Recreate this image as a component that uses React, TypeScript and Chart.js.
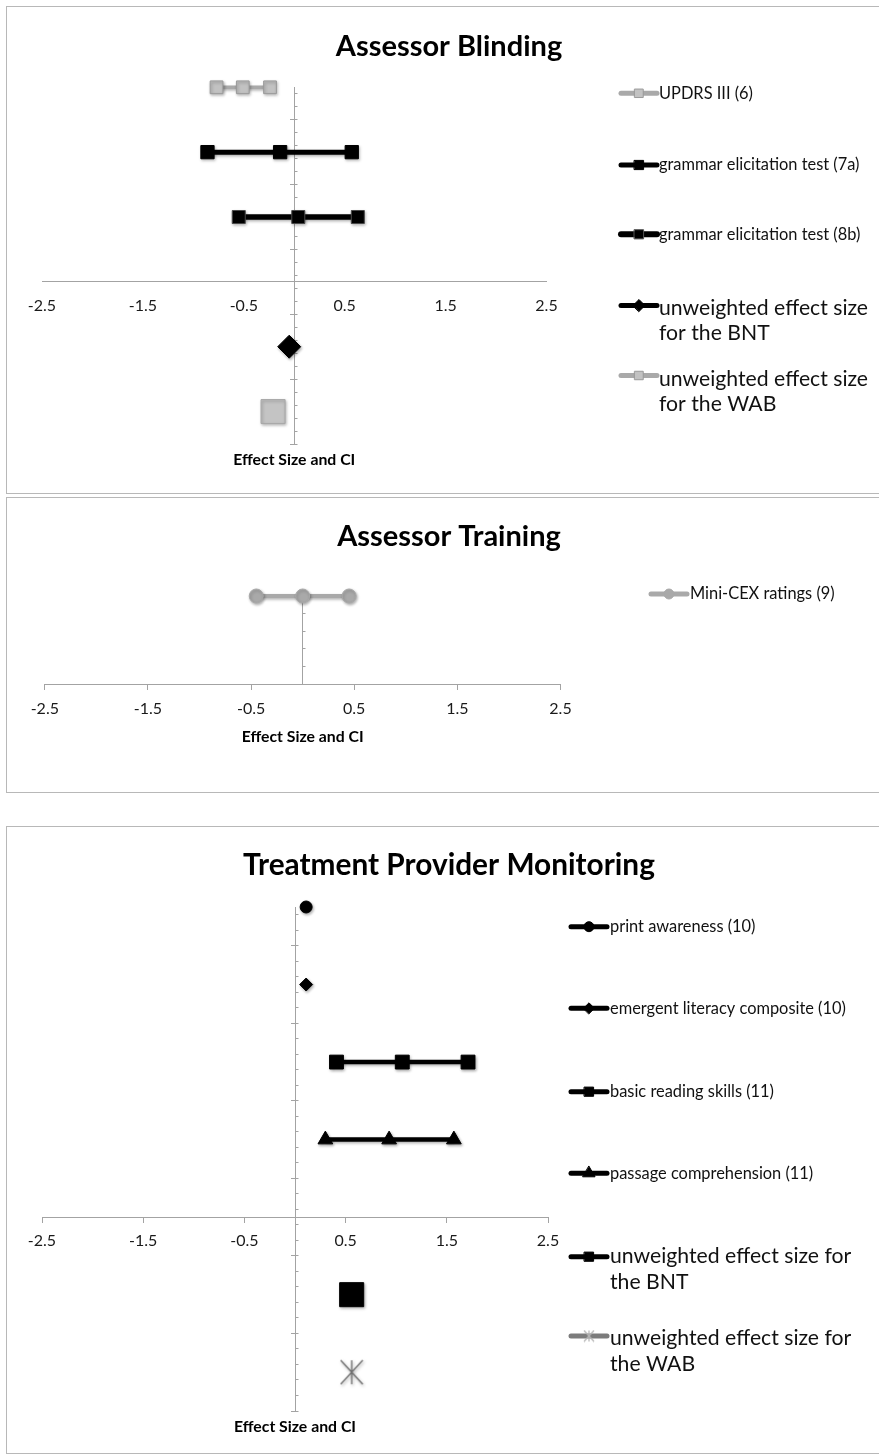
import React, { useEffect, useRef } from "react";
import { Chart, registerables } from "chart.js";
import { drawPoint } from "chart.js/helpers";

Chart.register(...registerables);

// ---------------------------------------------------------------------------
// Shared axis values
// ---------------------------------------------------------------------------
const X_MIN = -2.5;
const X_MAX = 2.5;
const X_TICKS = [-2.5, -1.5, -0.5, 0.5, 1.5, 2.5];
const X_TICK_LABELS = ["-2.5", "-1.5", "-0.5", "0.5", "1.5", "2.5"];
const AXIS_TITLE = "Effect Size and CI";
const Y_MINOR_STEP = 0.2;
const Y_MAJOR_STEP = 1;

// ---------------------------------------------------------------------------
// Assessor Blinding — study rows hold [lower CI, effect size, upper CI]
// ---------------------------------------------------------------------------
const BLINDING_TITLE = "Assessor Blinding";
const BLINDING_Y_RANGE = [-2.5, 3];
const BLINDING_ROWS = [3, 2, 1, -1, -2];
const UPDRS_III = [-0.77, -0.51, -0.24];
const GRAMMAR_7A = [-0.86, -0.14, 0.57];
const GRAMMAR_8B = [-0.55, 0.04, 0.63];
const BLINDING_BNT = [-0.05];
const BLINDING_WAB = [-0.21];
const BLINDING_LABELS = [
  ["UPDRS III (6)"],
  ["grammar elicitation test (7a)"],
  ["grammar elicitation test (8b)"],
  ["unweighted effect size", "for the BNT"],
  ["unweighted effect size", "for the WAB"],
];

// ---------------------------------------------------------------------------
// Assessor Training
// ---------------------------------------------------------------------------
const TRAINING_TITLE = "Assessor Training";
const TRAINING_Y_RANGE = [0, 1];
const TRAINING_ROWS = [1];
const MINI_CEX = [-0.45, 0, 0.45];
const TRAINING_LABELS = [["Mini-CEX ratings (9)"]];

// ---------------------------------------------------------------------------
// Treatment Provider Monitoring
// ---------------------------------------------------------------------------
const MONITORING_TITLE = "Treatment Provider Monitoring";
const MONITORING_Y_RANGE = [-2.5, 4];
const MONITORING_ROWS = [4, 3, 2, 1, -1, -2];
const PRINT_AWARENESS = [0.11];
const EMERGENT_LITERACY = [0.11];
const BASIC_READING = [0.41, 1.06, 1.71];
const PASSAGE_COMPREHENSION = [0.3, 0.93, 1.57];
const MONITORING_BNT = [0.56];
const MONITORING_WAB = [0.56];
const MONITORING_LABELS = [
  ["print awareness (10)"],
  ["emergent literacy composite (10)"],
  ["basic reading skills (11)"],
  ["passage comprehension (11)"],
  ["unweighted effect size for", "the BNT"],
  ["unweighted effect size for", "the WAB"],
];

// ---------------------------------------------------------------------------
// Styling
// ---------------------------------------------------------------------------
const FONT = "Lato, 'Open Sans', 'Liberation Sans', sans-serif";
const AXIS_GRAY = "#a3a3a3";
const FRAME_GRAY = "#b8b8b8";
const GRAY_LINE = "#a9a9a9";
const GRAY_FILL = "#c2c2c2";
const GRAY_EDGE = "#9a9a9a";
const PAGE_W = 879;
const SMALL_TEXT = 16.4;
const LARGE_TEXT = 21.2;

// Star marker: an X with a vertical stroke through it.
function asteriskImage(w: number, h: number, color: string, width: number): HTMLCanvasElement {
  const c = document.createElement("canvas");
  c.width = w + 2;
  c.height = h + 2;
  const g = c.getContext("2d")!;
  g.strokeStyle = color;
  g.lineWidth = width;
  g.lineCap = "butt";
  g.beginPath();
  g.moveTo(1, 1);
  g.lineTo(w + 1, h + 1);
  g.moveTo(w + 1, 1);
  g.lineTo(1, h + 1);
  g.moveTo(w / 2 + 1, 1);
  g.lineTo(w / 2 + 1, h + 1);
  g.stroke();
  return c;
}

type Mark = {
  line: string;
  lineWidth: number;
  showLine: boolean;
  point: any;
  radius: number;
  fill: string;
  stroke: string;
  strokeWidth: number;
  legendLine: string;
  legendLineWidth: number;
  legendPoint: any;
  legendRadius: number;
  legendFill: string;
  legendStroke: string;
  legendStrokeWidth: number;
};

function mark(m: Partial<Mark>): Mark {
  return {
    line: "#000",
    lineWidth: 4.5,
    showLine: true,
    point: "rect",
    radius: 9.2,
    fill: "#000",
    stroke: "#000",
    strokeWidth: 1,
    legendLine: "#000",
    legendLineWidth: 5,
    legendPoint: "rect",
    legendRadius: 6.5,
    legendFill: "#000",
    legendStroke: "#000",
    legendStrokeWidth: 1,
    ...m,
  };
}

type Series = { values: number[]; row: number; label: string[]; mark: Mark };

type LegendLayout = {
  x0: number;
  x1: number;
  textX: number;
  symbolY: number[];
  textY: number[];
  fontSize: number[];
  lineGap: number;
};

type PanelSpec = {
  top: number;
  frameHeight: number;
  canvasHeight: number;
  title: string;
  titleY: number;
  titleSize: number;
  pad: { left: number; right: number; top: number; bottom: number };
  yRange: number[];
  yMinor: number[];
  yMajor: number[];
  xTickMarks: boolean;
  xLabelPadding: number;
  axisTitleY: number;
  legend: LegendLayout;
  series: Series[];
};

function tickValues(min: number, max: number, step: number): number[] {
  const out: number[] = [];
  const n = Math.floor((max - min) / step + 1e-9);
  for (let k = 0; k <= n; k++) out.push(+(min + k * step).toFixed(6));
  return out;
}

const blindingMarks = [
  mark({ line: GRAY_LINE, lineWidth: 3.5, fill: GRAY_FILL, stroke: GRAY_EDGE, radius: 9, legendLine: GRAY_LINE, legendFill: GRAY_FILL, legendStroke: GRAY_EDGE, legendRadius: 6 }),
  mark({ lineWidth: 5, radius: 9.4 }),
  mark({ lineWidth: 5.5, radius: 9.2, stroke: "#4a4a4a", legendStroke: "#555", legendLineWidth: 6 }),
  mark({ showLine: false, point: "rectRot", radius: 11.5, legendPoint: "rectRot", legendRadius: 6 }),
  mark({ showLine: false, radius: 17, fill: "#c4c4c4", stroke: "#a8a8a8", legendLine: GRAY_LINE, legendFill: GRAY_FILL, legendStroke: GRAY_EDGE, legendRadius: 6 }),
];

const trainingMarks = [
  mark({ line: GRAY_LINE, lineWidth: 4, point: "circle", radius: 7, fill: "#a9a9a9", stroke: "#a9a9a9", legendLine: GRAY_LINE, legendPoint: "circle", legendRadius: 5, legendFill: "#a9a9a9", legendStroke: "#a9a9a9" }),
];

const monitoringMarks = [
  mark({ showLine: false, point: "circle", radius: 6, legendPoint: "circle", legendRadius: 5 }),
  mark({ showLine: false, point: "rectRot", radius: 6.5, legendPoint: "rectRot", legendRadius: 5.5 }),
  mark({ lineWidth: 4.5, radius: 9.8, legendRadius: 6.5 }),
  mark({ lineWidth: 4.5, point: "triangle", radius: 8.5, legendPoint: "triangle", legendRadius: 7 }),
  mark({ showLine: false, radius: 17, legendRadius: 6.5 }),
  mark({ showLine: false, point: "asterisk", radius: 12, stroke: "#6e6e6e", legendLine: "#7c7c7c", legendPoint: "asterisk-small", legendRadius: 6 }),
];

const PANELS: PanelSpec[] = [
  {
    top: 6,
    frameHeight: 488,
    canvasHeight: 488,
    title: BLINDING_TITLE,
    titleY: 41,
    titleSize: 29,
    pad: { left: 42, right: PAGE_W - 546.5, top: 81.3, bottom: 50 },
    yRange: BLINDING_Y_RANGE,
    yMinor: tickValues(BLINDING_Y_RANGE[0], BLINDING_Y_RANGE[1], Y_MINOR_STEP),
    yMajor: tickValues(BLINDING_Y_RANGE[0], BLINDING_Y_RANGE[1], Y_MAJOR_STEP),
    xTickMarks: false,
    xLabelPadding: 14,
    axisTitleY: 454,
    legend: {
      x0: 621,
      x1: 657,
      textX: 659,
      symbolY: [87.3, 159, 228.3, 299.5, 369.5],
      textY: [87.3, 159, 228.3, 302.3, 373.3],
      fontSize: [SMALL_TEXT, SMALL_TEXT, SMALL_TEXT, LARGE_TEXT, LARGE_TEXT],
      lineGap: 25,
    },
    series: [UPDRS_III, GRAMMAR_7A, GRAMMAR_8B, BLINDING_BNT, BLINDING_WAB].map((values, i) => ({
      values,
      row: BLINDING_ROWS[i],
      label: BLINDING_LABELS[i],
      mark: blindingMarks[i],
    })),
  },
  {
    top: 497,
    frameHeight: 296,
    canvasHeight: 296,
    title: TRAINING_TITLE,
    titleY: 39.7,
    titleSize: 29,
    pad: { left: 44.8, right: PAGE_W - 560.5, top: 99, bottom: 108.7 },
    yRange: TRAINING_Y_RANGE,
    yMinor: tickValues(TRAINING_Y_RANGE[0], TRAINING_Y_RANGE[1], Y_MINOR_STEP),
    yMajor: [],
    xTickMarks: true,
    xLabelPadding: 9.5,
    axisTitleY: 239.7,
    legend: {
      x0: 651,
      x1: 687,
      textX: 690,
      symbolY: [97],
      textY: [97],
      fontSize: [SMALL_TEXT],
      lineGap: 25,
    },
    series: [MINI_CEX].map((values, i) => ({
      values,
      row: TRAINING_ROWS[i],
      label: TRAINING_LABELS[i],
      mark: trainingMarks[i],
    })),
  },
  {
    top: 826,
    frameHeight: 628,
    canvasHeight: 628,
    title: MONITORING_TITLE,
    titleY: 39,
    titleSize: 29.8,
    pad: { left: 42, right: PAGE_W - 548, top: 81, bottom: 43 },
    yRange: MONITORING_Y_RANGE,
    yMinor: tickValues(MONITORING_Y_RANGE[0], MONITORING_Y_RANGE[1], Y_MINOR_STEP),
    yMajor: tickValues(MONITORING_Y_RANGE[0], MONITORING_Y_RANGE[1], Y_MAJOR_STEP),
    xTickMarks: true,
    xLabelPadding: 9.5,
    axisTitleY: 601,
    legend: {
      x0: 571,
      x1: 607,
      textX: 610,
      symbolY: [100.7, 182.3, 265.7, 347.3, 430.7, 510],
      textY: [100.7, 182.3, 265.7, 347.3, 430, 512.3],
      fontSize: [SMALL_TEXT, SMALL_TEXT, SMALL_TEXT, SMALL_TEXT, LARGE_TEXT, LARGE_TEXT],
      lineGap: 26,
    },
    series: [
      PRINT_AWARENESS,
      EMERGENT_LITERACY,
      BASIC_READING,
      PASSAGE_COMPREHENSION,
      MONITORING_BNT,
      MONITORING_WAB,
    ].map((values, i) => ({
      values,
      row: MONITORING_ROWS[i],
      label: MONITORING_LABELS[i],
      mark: monitoringMarks[i],
    })),
  },
];

function ForestPanel({ spec }: { spec: PanelSpec }) {
  const ref = useRef<HTMLCanvasElement | null>(null);

  useEffect(() => {
    const canvas = ref.current;
    if (!canvas) return;

    const bigStar = asteriskImage(22, 24, "#6e6e6e", 1.3);
    const smallStar = asteriskImage(10, 11, "#b4b4b4", 1.2);
    const resolvePoint = (p: any) =>
      p === "asterisk" ? bigStar : p === "asterisk-small" ? smallStar : p;

    // Soft drop shadow behind the plotted marks.
    const shadowPlugin = {
      id: "markShadow",
      beforeDatasetsDraw(chart: any) {
        const ctx = chart.ctx;
        ctx.save();
        ctx.shadowColor = "rgba(0,0,0,0.32)";
        ctx.shadowBlur = 3;
        ctx.shadowOffsetX = 1;
        ctx.shadowOffsetY = 1.5;
      },
      afterDatasetsDraw(chart: any) {
        chart.ctx.restore();
      },
    };

    // Title, axis title and the hand-placed legend.
    const decorPlugin = {
      id: "decor",
      afterDraw(chart: any) {
        const ctx: CanvasRenderingContext2D = chart.ctx;
        ctx.save();
        ctx.fillStyle = "#000";
        ctx.textAlign = "center";
        ctx.textBaseline = "middle";
        ctx.font = `bold ${spec.titleSize}px ${FONT}`;
        ctx.fillText(spec.title, 449, spec.titleY);

        ctx.font = `bold 15.8px ${FONT}`;
        ctx.fillText(AXIS_TITLE, chart.scales.x.getPixelForValue(0), spec.axisTitleY);

        const lg = spec.legend;
        spec.series.forEach((s, i) => {
          const m = s.mark;
          const sy = lg.symbolY[i];
          ctx.save();
          ctx.strokeStyle = m.legendLine;
          ctx.lineWidth = m.legendLineWidth;
          ctx.lineCap = "round";
          ctx.beginPath();
          ctx.moveTo(lg.x0, sy);
          ctx.lineTo(lg.x1, sy);
          ctx.stroke();
          ctx.fillStyle = m.legendFill;
          ctx.strokeStyle = m.legendStroke;
          ctx.lineWidth = m.legendStrokeWidth;
          drawPoint(
            ctx,
            {
              pointStyle: resolvePoint(m.legendPoint),
              rotation: 0,
              radius: m.legendRadius,
              borderWidth: m.legendStrokeWidth,
            } as any,
            (lg.x0 + lg.x1) / 2,
            sy
          );
          ctx.restore();

          ctx.fillStyle = "#111";
          ctx.textAlign = "left";
          ctx.textBaseline = "middle";
          ctx.font = `${lg.fontSize[i]}px ${FONT}`;
          s.label.forEach((line, j) => {
            ctx.fillText(line, lg.textX, lg.textY[i] + j * lg.lineGap);
          });
        });
        ctx.restore();
      },
    };

    const datasets = spec.series.map((s) => ({
      label: s.label.join(" "),
      data: s.values.map((v) => ({ x: v, y: s.row })),
      showLine: s.mark.showLine,
      borderColor: s.mark.line,
      borderWidth: s.mark.lineWidth,
      pointStyle: resolvePoint(s.mark.point),
      pointRadius: s.mark.radius,
      pointHoverRadius: s.mark.radius,
      pointBackgroundColor: s.mark.fill,
      pointBorderColor: s.mark.stroke,
      pointBorderWidth: s.mark.strokeWidth,
      clip: false as any,
    }));

    const zeroHeight = (scale: any) => {
      scale.height = 0;
    };
    const zeroWidth = (scale: any) => {
      scale.width = 0;
    };

    const chart = new Chart(canvas, {
      type: "scatter",
      data: { datasets },
      options: {
        animation: false,
        responsive: false,
        devicePixelRatio: 1,
        events: [],
        layout: { padding: spec.pad },
        plugins: {
          legend: { display: false },
          title: { display: false },
          tooltip: { enabled: false },
        },
        scales: {
          x: {
            type: "linear",
            min: X_MIN,
            max: X_MAX,
            position: { y: 0 } as any,
            afterBuildTicks: (scale: any) => {
              scale.ticks = X_TICKS.map((value) => ({ value }));
            },
            afterFit: zeroHeight,
            ticks: {
              autoSkip: false,
              maxRotation: 0,
              minRotation: 0,
              padding: spec.xLabelPadding,
              color: "#1a1a1a",
              font: { family: FONT, size: 16 },
              callback: (_v: any, i: number) => X_TICK_LABELS[i],
            },
            grid: {
              drawOnChartArea: false,
              drawTicks: spec.xTickMarks,
              tickLength: 5,
              color: AXIS_GRAY,
            },
            border: { display: true, color: AXIS_GRAY, width: 1 },
          },
          y: {
            type: "linear",
            min: spec.yRange[0],
            max: spec.yRange[1],
            position: { x: 0 } as any,
            afterBuildTicks: (scale: any) => {
              scale.ticks = spec.yMinor.map((value) => ({ value }));
            },
            afterFit: zeroWidth,
            ticks: { display: false },
            grid: {
              drawOnChartArea: false,
              drawTicks: true,
              tickLength: -3.5,
              color: AXIS_GRAY,
            },
            border: { display: true, color: AXIS_GRAY, width: 1 },
          },
          y2: {
            type: "linear",
            axis: "y",
            min: spec.yRange[0],
            max: spec.yRange[1],
            position: { x: 0 } as any,
            display: spec.yMajor.length > 0,
            afterBuildTicks: (scale: any) => {
              scale.ticks = spec.yMajor.map((value) => ({ value }));
            },
            afterFit: zeroWidth,
            ticks: { display: false },
            grid: {
              drawOnChartArea: false,
              drawTicks: true,
              tickLength: 4,
              color: AXIS_GRAY,
            },
            border: { display: false },
          } as any,
        },
      },
      plugins: [shadowPlugin, decorPlugin],
    } as any);

    return () => chart.destroy();
  }, [spec]);

  return (
    <>
      <div
        style={{
          position: "absolute",
          left: 6,
          top: spec.top,
          width: 900,
          height: spec.frameHeight,
          border: `1px solid ${FRAME_GRAY}`,
          boxSizing: "border-box",
        }}
      />
      <canvas
        ref={ref}
        width={PAGE_W}
        height={spec.canvasHeight}
        style={{
          position: "absolute",
          left: 0,
          top: spec.top,
          width: PAGE_W,
          height: spec.canvasHeight,
        }}
      />
    </>
  );
}

export default function App() {
  return (
    <div
      style={{
        position: "absolute",
        left: 0,
        top: 0,
        width: PAGE_W,
        height: 1454,
        overflow: "hidden",
        background: "#fff",
      }}
    >
      {PANELS.map((p) => (
        <ForestPanel key={p.title} spec={p} />
      ))}
    </div>
  );
}
